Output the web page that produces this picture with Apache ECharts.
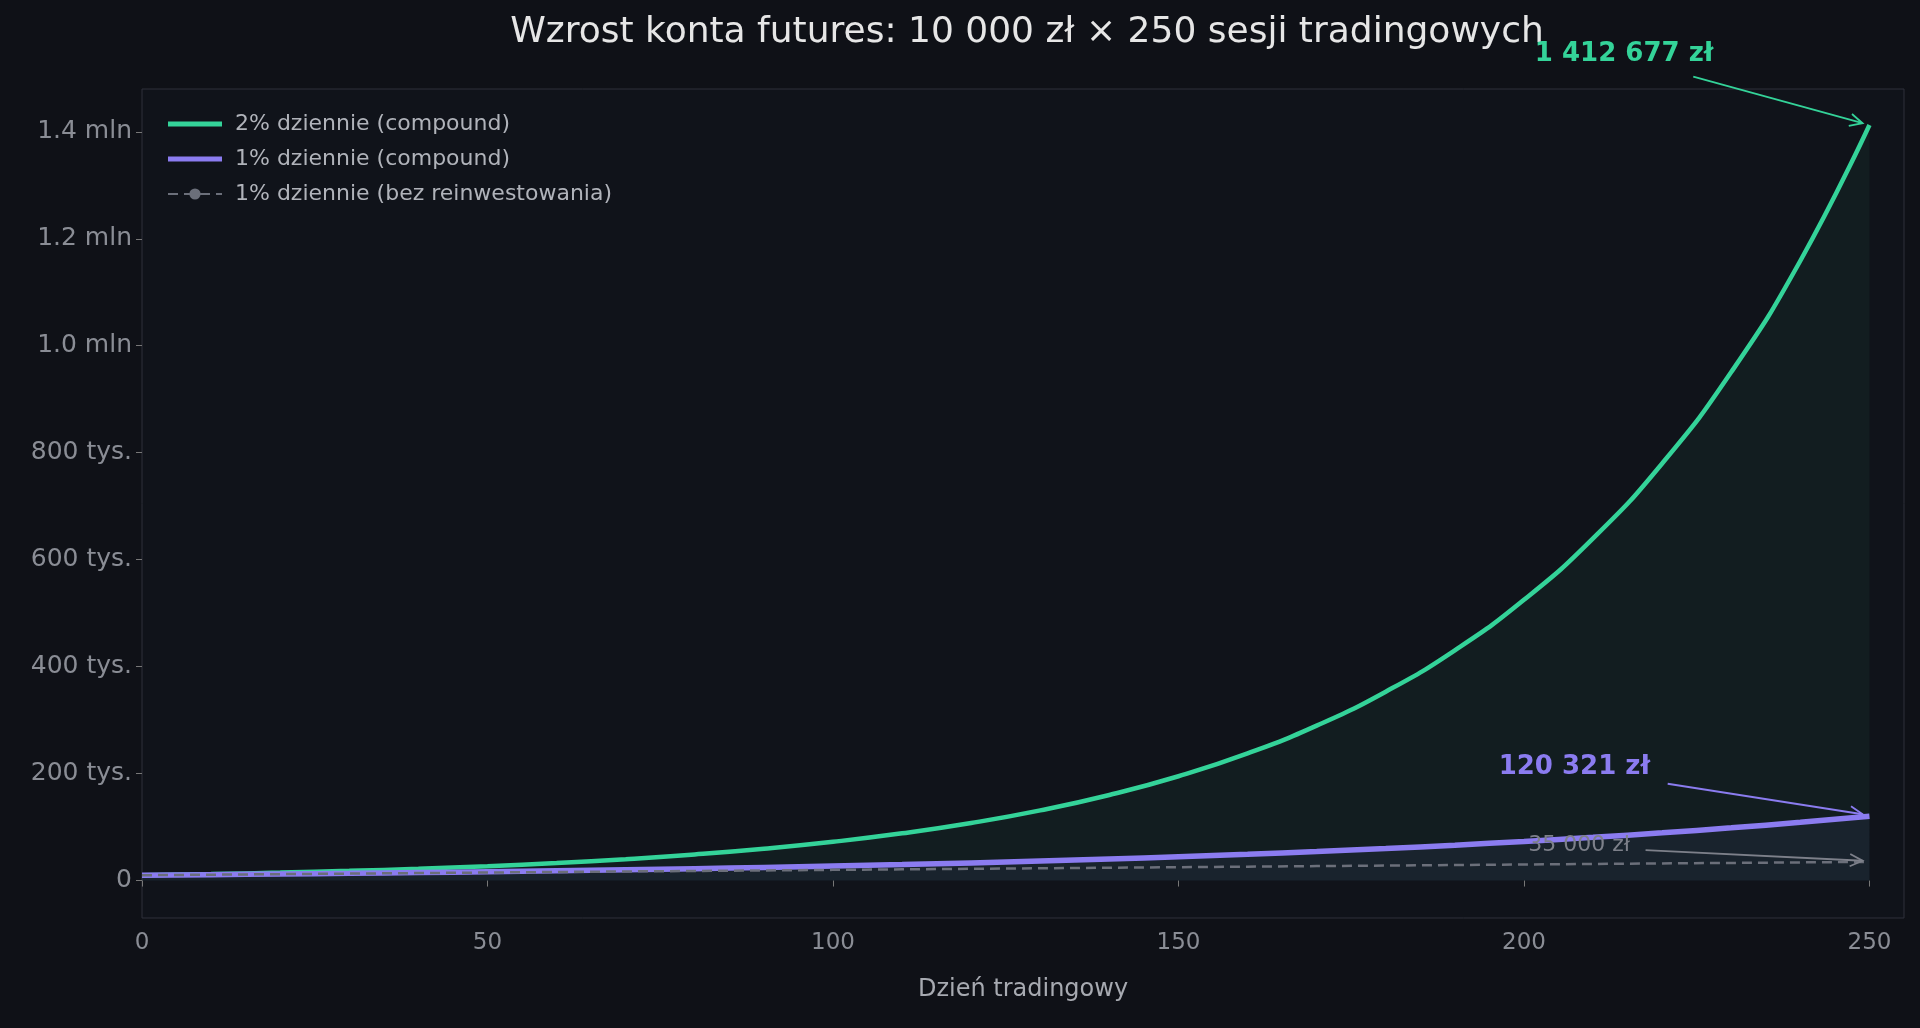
<!DOCTYPE html>
<html><head><meta charset="utf-8">
<script src="https://cdn.jsdelivr.net/npm/echarts@6/dist/echarts.min.js"></script>
<style>html,body{margin:0;background:#0f1117}#c{width:1920px;height:1028px}</style>
</head><body><div id="c"></div>
<script>
// dni probkowane co 10 sesji
const days = [0,10,20,30,40,50,60,70,80,90,100,110,120,130,140,150,160,170,180,190,200,210,220,230,240,250];
const compound2 = [10000,12190,14859,18114,22080,26916,32810,39996,48754,59431,72446,88312,107652,131227,159965,194996,237699,289754,353208,430558,524849,639786,779893,950683,1158877,1412677];
const compound1 = [10000,11046,12202,13478,14889,16446,18167,20068,22167,24486,27048,29878,33004,36457,40271,44484,49138,54279,59958,66231,73160,80814,89269,98609,108926,120321];
const simple1 = [10000,11000,12000,13000,14000,15000,16000,17000,18000,19000,20000,21000,22000,23000,24000,25000,26000,27000,28000,29000,30000,31000,32000,33000,34000,35000];
const yTicks = [0,200000,400000,600000,800000,1000000,1200000,1400000];
// adnotacje: tekst, pozycja tekstu, poczatek strzalki, koniec strzalki (w danych)
const notes = [
  {text: '1 412 677 zł', color: '#34d399', size: 26, bold: true, at: [214.5, 1545000], from: [224.5, 1503000], to: [249, 1416000]},
  {text: '120 321 zł', color: '#8b7cf0', size: 26, bold: true, at: [207.3, 212000], from: [220.8, 181000], to: [249, 124000]},
  {text: '35 000 zł', color: '#7d808a', size: 22, bold: false, at: [208, 66000], from: [217.6, 57000], to: [249, 37000]}
];

const GREEN = '#34d399', PURPLE = '#8b7cf0', GREY = '#6b6f7a';
const pair = (a) => days.map((d, i) => [d, a[i]]);

function fmt(v) {
  if (v === 0) return '0';
  if (v >= 1000000) return (v / 1000000).toFixed(1) + ' mln';
  return (v / 1000) + ' tys.';
}

const chart = echarts.init(document.getElementById('c'));
chart.setOption({
  backgroundColor: '#0f1117',
  animation: false,
  title: {text: 'Wzrost konta futures: 10 000 zł × 250 sesji tradingowych', left: 1022, textAlign: 'center', top: 10,
    textStyle: {color: '#e6e6e6', fontSize: 36, fontWeight: 'normal', fontFamily: 'DejaVu Sans'}},
  textStyle: {fontFamily: 'DejaVu Sans'},
  legend: {left: 162, top: 108, orient: 'vertical', itemGap: 13, itemWidth: 54, itemHeight: 14,
    textStyle: {color: '#b0b3ba', fontSize: 22, padding: [0, 0, 0, 8]},
    data: [
      {name: '2% dziennie (compound)', icon: 'path://M0,0H54V5H0Z'},
      {name: '1% dziennie (compound)', icon: 'path://M0,0H54V5H0Z'},
      {name: '1% dziennie (bez reinwestowania)'}]},
  grid: {left: 142, right: 16, top: 89, bottom: 110, show: true, borderColor: '#2e313a', backgroundColor: '#10131a'},
  xAxis: {type: 'value', min: 0, max: 255, interval: 50, name: 'Dzień tradingowy', nameLocation: 'middle', nameGap: 60,
    nameTextStyle: {color: '#a7aab1', fontSize: 24},
    axisLine: {show: false}, axisTick: {show: true, length: 6, lineStyle: {color: '#777'}},
    axisLabel: {color: '#8a8d95', fontSize: 23, margin: 14, showMaxLabel: false},
    splitLine: {show: false}},
  yAxis: {type: 'value', min: -70000, max: 1480000,
    axisLine: {show: false},
    axisTick: {show: true, length: 6, customValues: yTicks, lineStyle: {color: '#777'}},
    axisLabel: {color: '#8a8d95', fontSize: 25, margin: 10, customValues: yTicks, formatter: fmt},
    splitLine: {show: false}},
  series: [
    {name: '2% dziennie (compound)', type: 'line', smooth: true, symbol: 'none', data: pair(compound2),
      lineStyle: {color: GREEN, width: 4.5}, itemStyle: {color: GREEN},
      areaStyle: {color: 'rgba(52,211,153,0.08)', origin: 0}},
    {name: '1% dziennie (compound)', type: 'line', smooth: true, symbol: 'none', data: pair(compound1),
      lineStyle: {color: PURPLE, width: 5.5}, itemStyle: {color: PURPLE},
      areaStyle: {color: 'rgba(100,110,180,0.12)', origin: 0}},
    {name: '1% dziennie (bez reinwestowania)', type: 'line', symbol: 'none', data: pair(simple1),
      lineStyle: {color: GREY, width: 2.5, type: [10, 6]}, itemStyle: {color: GREY}}
  ]
});

// strzalki i podpisy rysowane przez przeliczenie danych na piksele
const graphics = [];
notes.forEach(n => {
  const p = chart.convertToPixel({gridIndex: 0}, n.at);
  const a = chart.convertToPixel({gridIndex: 0}, n.from);
  const b = chart.convertToPixel({gridIndex: 0}, n.to);
  const ang = Math.atan2(b[1] - a[1], b[0] - a[0]);
  const L = 14;
  graphics.push({type: 'text', x: p[0], y: p[1], z: 10, style: {text: n.text, fill: n.color, font: (n.bold ? 'bold ' : '') + n.size + 'px DejaVu Sans', textAlign: 'center', textVerticalAlign: 'middle'}});
  graphics.push({type: 'line', z: 10, shape: {x1: a[0], y1: a[1], x2: b[0], y2: b[1]}, style: {stroke: n.color, lineWidth: 1.8}});
  graphics.push({type: 'polyline', z: 10, shape: {points: [
    [b[0] - L * Math.cos(ang - 0.45), b[1] - L * Math.sin(ang - 0.45)], b,
    [b[0] - L * Math.cos(ang + 0.45), b[1] - L * Math.sin(ang + 0.45)]]}, style: {stroke: n.color, lineWidth: 1.8, fill: null}});
});
chart.setOption({graphic: graphics});
</script></body></html>
